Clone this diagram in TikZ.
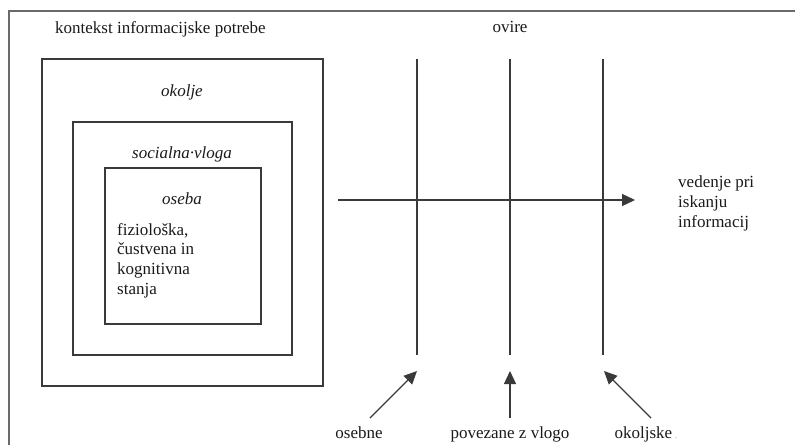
\documentclass[tikz,border=0pt]{standalone}
\usepackage{fontspec}
\setmainfont{Liberation Serif}
\usetikzlibrary{arrows.meta}
\definecolor{ink}{HTML}{1A1A1A}
\definecolor{rule}{HTML}{3A3A3A}
\definecolor{frame}{HTML}{6A6A6A}
\begin{document}
\begin{tikzpicture}[x=1pt,y=-1pt,
  txt/.style={font=\fontsize{17}{19.6}\selectfont, text=ink, inner sep=0pt},
  ctxbox/.style={draw=rule, line width=1.4pt, inner sep=0pt},
  barrier/.style={draw=rule, line width=1.3pt},
  pointer/.style={draw=rule, line width=1.3pt, -{Triangle[length=13pt,width=12pt]}}]
\useasboundingbox (0,0) rectangle (795,445);

% outer frame (open on the right and bottom)
\draw[frame, line width=1.6pt] (795,11) -- (9,11) -- (9,445);

% nested context boxes
\node[ctxbox, minimum width=281pt, minimum height=327pt] (env)  at (182.5,222.5) {};
\node[ctxbox, minimum width=219pt, minimum height=233pt] (role) at (182.5,238.5) {};
\node[ctxbox, minimum width=156pt, minimum height=156pt] (pers) at (183,246) {};

\node[txt, anchor=base west] (ctx) at (55,33) {kontekst informacijske potrebe};
\node[txt, anchor=base, font=\fontsize{17}{19.6}\selectfont\itshape] (envl)  at (182,96)  {okolje};
\node[txt, anchor=base, font=\fontsize{17}{19.6}\selectfont\itshape] (rolel) at (182,158) {socialna·vloga};
\node[txt, anchor=base, font=\fontsize{17}{19.6}\selectfont\itshape] (persl) at (182,204) {oseba};
% base anchor of a multi-line node sits on its last line
\node[txt, anchor=base west, align=left] (states) at (117,294)
  {fiziološka,\\čustvena in\\kognitivna\\stanja};

% barriers
\node[txt, anchor=base] (ovire) at (510,32) {ovire};
\coordinate (b1t) at (417,59);  \coordinate (b1b) at (417,355);
\coordinate (b2t) at (510,59);  \coordinate (b2b) at (510,355);
\coordinate (b3t) at (603,59);  \coordinate (b3b) at (603,355);
\draw[barrier] (b1t) -- (b1b);
\draw[barrier] (b2t) -- (b2b);
\draw[barrier] (b3t) -- (b3b);

% information-seeking behaviour
\coordinate (hs) at (338,200);
\coordinate (he) at (635,200);
\draw[pointer] (hs) -- (he);
\node[txt, anchor=base west, align=left] (beh) at (678,227)
  {vedenje pri\\iskanju\\informacij};

% barrier types
\node[txt, anchor=base] (l1) at (359,438) {osebne};
\node[txt, anchor=base] (l2) at (510,438) {povezane z vlogo};
\node[txt, anchor=base] (l3) at (646,438) {okoljske\,{\color{black!35}\fontsize{9}{9}\selectfont.}};
\coordinate (a1s) at (370,418); \coordinate (a1e) at (417,371);
\coordinate (a2s) at (510,418); \coordinate (a2e) at (510,371);
\coordinate (a3s) at (651,418); \coordinate (a3e) at (604,371);
\draw[pointer] (a1s) -- (a1e);
\draw[pointer] (a2s) -- (a2e);
\draw[pointer] (a3s) -- (a3e);
\end{tikzpicture}
\end{document}
